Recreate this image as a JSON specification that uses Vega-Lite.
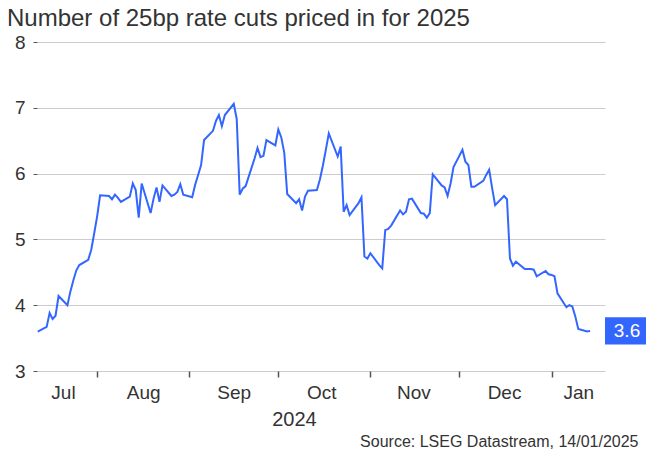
{
  "$schema": "https://vega.github.io/schema/vega-lite/v6.json",
  "width": 568,
  "height": 329,
  "autosize": {"type": "none"},
  "padding": {"left": 37, "top": 42, "right": 41, "bottom": 79},
  "background": "white",
  "config": {
    "view": {"stroke": null},
    "font": "Liberation Sans",
    "axis": {"labelFont": "Liberation Sans", "titleFont": "Liberation Sans"}
  },
  "title": {
    "text": "Number of 25bp rate cuts priced in for 2025",
    "anchor": "start",
    "frame": "group",
    "dx": -30,
    "offset": 2,
    "fontSize": 24,
    "fontWeight": "normal",
    "color": "#333333",
    "font": "Liberation Sans"
  },
  "data": {
    "values": [
      {"date": "2024-07-12", "value": 3.60},
      {"date": "2024-07-15", "value": 3.67},
      {"date": "2024-07-16", "value": 3.88},
      {"date": "2024-07-17", "value": 3.79},
      {"date": "2024-07-18", "value": 3.84},
      {"date": "2024-07-19", "value": 4.14},
      {"date": "2024-07-22", "value": 4.00},
      {"date": "2024-07-23", "value": 4.21},
      {"date": "2024-07-24", "value": 4.38},
      {"date": "2024-07-25", "value": 4.53},
      {"date": "2024-07-26", "value": 4.61},
      {"date": "2024-07-29", "value": 4.69},
      {"date": "2024-07-30", "value": 4.84},
      {"date": "2024-07-31", "value": 5.09},
      {"date": "2024-08-01", "value": 5.35},
      {"date": "2024-08-02", "value": 5.67},
      {"date": "2024-08-05", "value": 5.66},
      {"date": "2024-08-06", "value": 5.61},
      {"date": "2024-08-07", "value": 5.68},
      {"date": "2024-08-08", "value": 5.63},
      {"date": "2024-08-09", "value": 5.57},
      {"date": "2024-08-12", "value": 5.65},
      {"date": "2024-08-13", "value": 5.85},
      {"date": "2024-08-14", "value": 5.75},
      {"date": "2024-08-15", "value": 5.33},
      {"date": "2024-08-16", "value": 5.85},
      {"date": "2024-08-19", "value": 5.40},
      {"date": "2024-08-20", "value": 5.62},
      {"date": "2024-08-21", "value": 5.79},
      {"date": "2024-08-22", "value": 5.57},
      {"date": "2024-08-23", "value": 5.82},
      {"date": "2024-08-26", "value": 5.66},
      {"date": "2024-08-27", "value": 5.68},
      {"date": "2024-08-28", "value": 5.72},
      {"date": "2024-08-29", "value": 5.84},
      {"date": "2024-08-30", "value": 5.68},
      {"date": "2024-09-02", "value": 5.64},
      {"date": "2024-09-03", "value": 5.83},
      {"date": "2024-09-04", "value": 5.98},
      {"date": "2024-09-05", "value": 6.13},
      {"date": "2024-09-06", "value": 6.51},
      {"date": "2024-09-09", "value": 6.65},
      {"date": "2024-09-10", "value": 6.80},
      {"date": "2024-09-11", "value": 6.89},
      {"date": "2024-09-12", "value": 6.72},
      {"date": "2024-09-13", "value": 6.89},
      {"date": "2024-09-16", "value": 7.06},
      {"date": "2024-09-17", "value": 6.83},
      {"date": "2024-09-18", "value": 5.68},
      {"date": "2024-09-19", "value": 5.77},
      {"date": "2024-09-20", "value": 5.81},
      {"date": "2024-09-23", "value": 6.23},
      {"date": "2024-09-24", "value": 6.39},
      {"date": "2024-09-25", "value": 6.25},
      {"date": "2024-09-26", "value": 6.27},
      {"date": "2024-09-27", "value": 6.51},
      {"date": "2024-09-30", "value": 6.43},
      {"date": "2024-10-01", "value": 6.67},
      {"date": "2024-10-02", "value": 6.55},
      {"date": "2024-10-03", "value": 6.32},
      {"date": "2024-10-04", "value": 5.69},
      {"date": "2024-10-07", "value": 5.55},
      {"date": "2024-10-08", "value": 5.61},
      {"date": "2024-10-09", "value": 5.44},
      {"date": "2024-10-10", "value": 5.65},
      {"date": "2024-10-11", "value": 5.74},
      {"date": "2024-10-14", "value": 5.75},
      {"date": "2024-10-15", "value": 5.91},
      {"date": "2024-10-16", "value": 6.12},
      {"date": "2024-10-17", "value": 6.36},
      {"date": "2024-10-18", "value": 6.61},
      {"date": "2024-10-21", "value": 6.26},
      {"date": "2024-10-22", "value": 6.41},
      {"date": "2024-10-23", "value": 5.42},
      {"date": "2024-10-24", "value": 5.52},
      {"date": "2024-10-25", "value": 5.37},
      {"date": "2024-10-28", "value": 5.55},
      {"date": "2024-10-29", "value": 5.64},
      {"date": "2024-10-30", "value": 4.74},
      {"date": "2024-10-31", "value": 4.71},
      {"date": "2024-11-01", "value": 4.79},
      {"date": "2024-11-04", "value": 4.61},
      {"date": "2024-11-05", "value": 4.56},
      {"date": "2024-11-06", "value": 5.14},
      {"date": "2024-11-07", "value": 5.16},
      {"date": "2024-11-08", "value": 5.21},
      {"date": "2024-11-11", "value": 5.44},
      {"date": "2024-11-12", "value": 5.38},
      {"date": "2024-11-13", "value": 5.42},
      {"date": "2024-11-14", "value": 5.61},
      {"date": "2024-11-15", "value": 5.62},
      {"date": "2024-11-18", "value": 5.40},
      {"date": "2024-11-19", "value": 5.39},
      {"date": "2024-11-20", "value": 5.33},
      {"date": "2024-11-21", "value": 5.40},
      {"date": "2024-11-22", "value": 5.99},
      {"date": "2024-11-25", "value": 5.82},
      {"date": "2024-11-26", "value": 5.79},
      {"date": "2024-11-27", "value": 5.66},
      {"date": "2024-11-28", "value": 5.85},
      {"date": "2024-11-29", "value": 6.10},
      {"date": "2024-12-02", "value": 6.36},
      {"date": "2024-12-03", "value": 6.18},
      {"date": "2024-12-04", "value": 6.13},
      {"date": "2024-12-05", "value": 5.80},
      {"date": "2024-12-06", "value": 5.80},
      {"date": "2024-12-09", "value": 5.89},
      {"date": "2024-12-10", "value": 5.98},
      {"date": "2024-12-11", "value": 6.06},
      {"date": "2024-12-12", "value": 5.78},
      {"date": "2024-12-13", "value": 5.52},
      {"date": "2024-12-16", "value": 5.66},
      {"date": "2024-12-17", "value": 5.61},
      {"date": "2024-12-18", "value": 4.71},
      {"date": "2024-12-19", "value": 4.60},
      {"date": "2024-12-20", "value": 4.66},
      {"date": "2024-12-23", "value": 4.55},
      {"date": "2024-12-24", "value": 4.55},
      {"date": "2024-12-25", "value": 4.55},
      {"date": "2024-12-26", "value": 4.54},
      {"date": "2024-12-27", "value": 4.44},
      {"date": "2024-12-30", "value": 4.52},
      {"date": "2024-12-31", "value": 4.47},
      {"date": "2025-01-01", "value": 4.46},
      {"date": "2025-01-02", "value": 4.44},
      {"date": "2025-01-03", "value": 4.18},
      {"date": "2025-01-06", "value": 3.97},
      {"date": "2025-01-07", "value": 4.00},
      {"date": "2025-01-08", "value": 3.98},
      {"date": "2025-01-09", "value": 3.83},
      {"date": "2025-01-10", "value": 3.64},
      {"date": "2025-01-13", "value": 3.60},
      {"date": "2025-01-14", "value": 3.61}
    ]
  },
  "resolve": {"axis": {"x": "independent"}},
  "layer": [
    {
      "mark": {"type": "line", "color": "#3366FF", "strokeWidth": 2, "interpolate": "linear"},
      "encoding": {
        "x": {
          "field": "date",
          "type": "temporal",
          "scale": {
            "type": "utc",
            "domain": [
              {"year": 2024, "month": 7, "date": 11, "hours": 18, "utc": true},
              {"year": 2025, "month": 1, "date": 19, "utc": true}
            ]
          },
          "axis": {
            "orient": "bottom",
            "values": [
              {"year": 2024, "month": 8, "date": 1, "utc": true},
              {"year": 2024, "month": 9, "date": 1, "utc": true},
              {"year": 2024, "month": 10, "date": 1, "utc": true},
              {"year": 2024, "month": 11, "date": 1, "utc": true},
              {"year": 2024, "month": 12, "date": 1, "utc": true},
              {"year": 2025, "month": 1, "date": 1, "utc": true}
            ],
            "labels": false,
            "ticks": true,
            "tickSize": 6,
            "tickWidth": 1.5,
            "tickColor": "#555555",
            "domain": false,
            "grid": false,
            "title": "2024",
            "titleFontSize": 20,
            "titleFontWeight": "normal",
            "titleColor": "#333333",
            "titleX": 257,
            "titleY": 54,
            "titleAlign": "center",
            "titleBaseline": "alphabetic",
            "titleAnchor": null
          }
        },
        "y": {
          "field": "value",
          "type": "quantitative",
          "scale": {"domain": [3, 8], "nice": false, "zero": false},
          "axis": {
            "values": [3, 4, 5, 6, 7, 8],
            "format": "d",
            "title": null,
            "domain": false,
            "ticks": true,
            "tickSize": 4,
            "tickColor": "#555555",
            "labelFontSize": 19,
            "labelColor": "#333333",
            "labelPadding": 8,
            "grid": true,
            "gridColor": "#cccccc",
            "gridWidth": 1
          }
        }
      }
    },
    {
      "mark": {"type": "line", "strokeOpacity": 0},
      "encoding": {
        "x": {
          "field": "date",
          "type": "temporal",
          "axis": {
            "orient": "bottom",
            "values": [
              {"year": 2024, "month": 7, "date": 20, "hours": 12, "utc": true},
              {"year": 2024, "month": 8, "date": 16, "hours": 12, "utc": true},
              {"year": 2024, "month": 9, "date": 16, "utc": true},
              {"year": 2024, "month": 10, "date": 15, "hours": 12, "utc": true},
              {"year": 2024, "month": 11, "date": 15, "hours": 12, "utc": true},
              {"year": 2024, "month": 12, "date": 16, "utc": true},
              {"year": 2025, "month": 1, "date": 10, "utc": true}
            ],
            "labelExpr": "utcFormat(datum.value, '%b')",
            "labelFontSize": 19,
            "labelColor": "#333333",
            "labelPadding": 12,
            "labelFlush": false,
            "labelOverlap": false,
            "ticks": false,
            "domain": false,
            "grid": false,
            "title": "Source: LSEG Datastream, 14/01/2025",
            "titleFontSize": 16,
            "titleFontWeight": "normal",
            "titleColor": "#333333",
            "titleX": 601,
            "titleY": 75,
            "titleAlign": "right",
            "titleBaseline": "alphabetic",
            "titleAnchor": null
          }
        },
        "y": {"field": "value", "type": "quantitative"}
      }
    },
    {
      "transform": [{"filter": "utcyear(datum.date) == 2025 && utcmonth(datum.date) == 0 && utcdate(datum.date) == 14"}],
      "mark": {"type": "point", "shape": "M-1,-0.62H1V0.62H-1Z", "filled": true, "color": "#3366FF", "opacity": 1, "size": 1936, "strokeWidth": 0},
      "encoding": {
        "x": {"value": 590},
        "y": {"field": "value", "type": "quantitative"}
      }
    },
    {
      "transform": [{"filter": "utcyear(datum.date) == 2025 && utcmonth(datum.date) == 0 && utcdate(datum.date) == 14"}],
      "mark": {"type": "text", "color": "white", "fontSize": 19, "align": "center", "baseline": "middle", "font": "Liberation Sans"},
      "encoding": {
        "x": {"value": 590},
        "y": {"field": "value", "type": "quantitative"},
        "text": {"field": "value", "type": "quantitative", "format": ".1f"}
      }
    }
  ]
}
